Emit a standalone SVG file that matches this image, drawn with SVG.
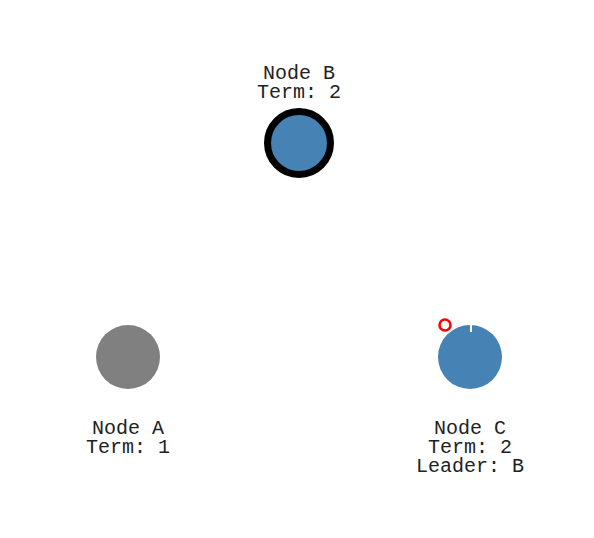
<svg xmlns="http://www.w3.org/2000/svg" width="594" height="538" viewBox="0 0 594 538">
<style>
text{font-family:"Liberation Mono","Courier New",monospace;font-size:20px;fill:#222;text-anchor:middle}
.n{fill:#4682b4}
</style>
<rect width="594" height="538" fill="#fff"/>
<g id="connectors"></g>
<g id="nodeB">
<circle class="n" cx="299" cy="143" r="31.5" stroke="#000" stroke-width="7"/>
<text x="299" y="79">Node B</text>
<text x="299" y="98">Term: 2</text>
</g>
<g id="nodeA">
<circle cx="128" cy="357" r="32" fill="#808080"/>
<text x="128" y="434">Node A</text>
<text x="128" y="453">Term: 1</text>
</g>
<g id="nodeC">
<circle class="n" cx="470" cy="357" r="32"/>
<line x1="471" y1="325" x2="471" y2="332" stroke="#fff" stroke-width="2"/>
<circle cx="445" cy="325" r="5.5" fill="none" stroke="#f00" stroke-width="2.5"/>
<text x="470" y="434">Node C</text>
<text x="470" y="453">Term: 2</text>
<text x="470" y="472">Leader: B</text>
</g>
</svg>
